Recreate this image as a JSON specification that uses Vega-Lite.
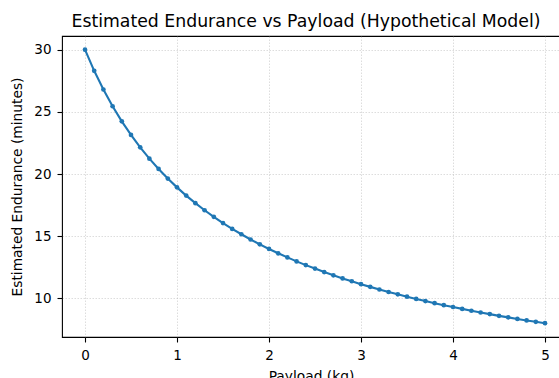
{
  "$schema": "https://vega.github.io/schema/vega-lite/v6.json",
  "width": 498,
  "height": 301,
  "autosize": {"type": "none"},
  "padding": {"left": 62, "top": 36, "right": 0, "bottom": 41},
  "background": "white",
  "config": {
    "font": "DejaVu Sans",
    "view": {"stroke": "#000000", "strokeWidth": 1.1},
    "axis": {
      "domain": false,
      "tickColor": "#000000",
      "tickSize": 5,
      "tickWidth": 1.1,
      "labelFont": "DejaVu Sans",
      "labelFontSize": 13.5,
      "labelColor": "#000000",
      "titleFont": "DejaVu Sans",
      "titleFontSize": 13.8,
      "titleFontWeight": "normal",
      "titleColor": "#000000",
      "gridColor": "#b0b0b0",
      "gridOpacity": 0.55,
      "gridDash": [1.5, 1.5],
      "gridWidth": 0.8
    }
  },
  "title": {
    "text": "Estimated Endurance vs Payload (Hypothetical Model)",
    "font": "DejaVu Sans",
    "fontSize": 17.3,
    "fontWeight": "normal",
    "color": "#000000",
    "offset": 6,
    "dx": -5
  },
  "data": {
    "values": [
      {"payload": 0.0, "endurance": 30.0},
      {"payload": 0.1, "endurance": 28.30},
      {"payload": 0.2, "endurance": 26.80},
      {"payload": 0.3, "endurance": 25.45},
      {"payload": 0.4, "endurance": 24.24},
      {"payload": 0.5, "endurance": 23.15},
      {"payload": 0.6, "endurance": 22.15},
      {"payload": 0.7, "endurance": 21.24},
      {"payload": 0.8, "endurance": 20.41},
      {"payload": 0.9, "endurance": 19.64},
      {"payload": 1.0, "endurance": 18.93},
      {"payload": 1.1, "endurance": 18.27},
      {"payload": 1.2, "endurance": 17.66},
      {"payload": 1.3, "endurance": 17.09},
      {"payload": 1.4, "endurance": 16.56},
      {"payload": 1.5, "endurance": 16.06},
      {"payload": 1.6, "endurance": 15.59},
      {"payload": 1.7, "endurance": 15.16},
      {"payload": 1.8, "endurance": 14.74},
      {"payload": 1.9, "endurance": 14.35},
      {"payload": 2.0, "endurance": 13.98},
      {"payload": 2.1, "endurance": 13.63},
      {"payload": 2.2, "endurance": 13.30},
      {"payload": 2.3, "endurance": 12.98},
      {"payload": 2.4, "endurance": 12.68},
      {"payload": 2.5, "endurance": 12.40},
      {"payload": 2.6, "endurance": 12.12},
      {"payload": 2.7, "endurance": 11.86},
      {"payload": 2.8, "endurance": 11.61},
      {"payload": 2.9, "endurance": 11.38},
      {"payload": 3.0, "endurance": 11.15},
      {"payload": 3.1, "endurance": 10.93},
      {"payload": 3.2, "endurance": 10.72},
      {"payload": 3.3, "endurance": 10.52},
      {"payload": 3.4, "endurance": 10.33},
      {"payload": 3.5, "endurance": 10.14},
      {"payload": 3.6, "endurance": 9.96},
      {"payload": 3.7, "endurance": 9.79},
      {"payload": 3.8, "endurance": 9.62},
      {"payload": 3.9, "endurance": 9.46},
      {"payload": 4.0, "endurance": 9.31},
      {"payload": 4.1, "endurance": 9.16},
      {"payload": 4.2, "endurance": 9.01},
      {"payload": 4.3, "endurance": 8.87},
      {"payload": 4.4, "endurance": 8.74},
      {"payload": 4.5, "endurance": 8.60},
      {"payload": 4.6, "endurance": 8.48},
      {"payload": 4.7, "endurance": 8.35},
      {"payload": 4.8, "endurance": 8.23},
      {"payload": 4.9, "endurance": 8.12},
      {"payload": 5.0, "endurance": 8.01}
    ]
  },
  "encoding": {
    "x": {
      "field": "payload",
      "type": "quantitative",
      "title": "Payload (kg)",
      "scale": {"domain": [-0.25, 5.163], "nice": false, "zero": false},
      "axis": {"values": [0, 1, 2, 3, 4, 5], "format": "d", "labelPadding": 6, "titlePadding": 8}
    },
    "y": {
      "field": "endurance",
      "type": "quantitative",
      "title": "Estimated Endurance (minutes)",
      "scale": {"domain": [6.9, 31.1], "nice": false, "zero": false},
      "axis": {"values": [10, 15, 20, 25, 30], "labelPadding": 6, "titlePadding": 9}
    }
  },
  "layer": [
    {"mark": {"type": "line", "color": "#1f77b4", "strokeWidth": 2.1}},
    {"mark": {"type": "point", "filled": true, "color": "#1f77b4", "size": 22, "opacity": 1}}
  ]
}
